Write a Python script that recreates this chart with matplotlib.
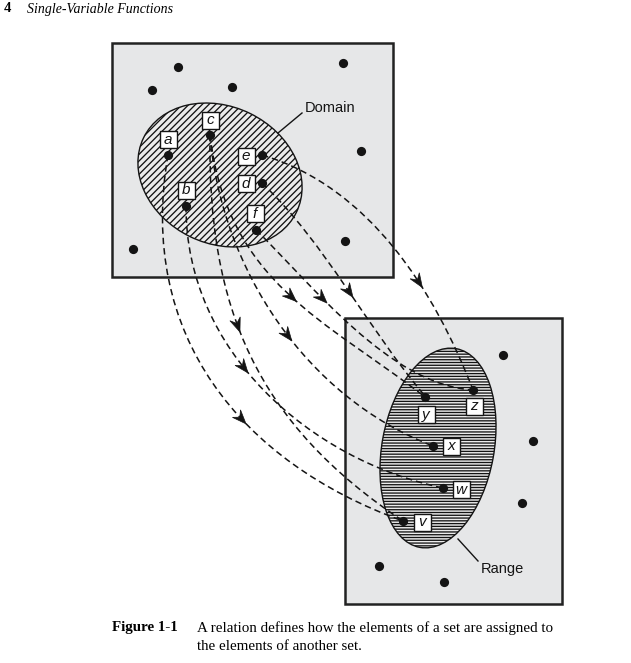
import numpy as np
import matplotlib
matplotlib.use("Agg")
import matplotlib.pyplot as plt
from matplotlib.patches import Ellipse, Rectangle, Polygon, PathPatch
from matplotlib.path import Path

# ---------------- data (pixel space) ----------------
FIG_W, FIG_H = 631, 663

domain_box = [112, 43, 393, 277]          # left, top, right, bottom
range_box = [345, 318, 562, 604]

domain_ellipse = [220, 175, 170, 137, 26]  # cx, cy, width, height, angle
range_ellipse = [438, 448, 112, 202, 10.4]

domain_names = ["a", "b", "c", "d", "e", "f"]
domain_dots = [(168, 155), (186, 206), (210, 135), (262, 183), (262, 155), (256, 230)]
domain_labels = [(168, 139), (186, 190), (210, 120), (246, 183), (246, 156), (255, 213)]

range_names = ["v", "w", "x", "y", "z"]
range_dots = [(403, 521), (443, 488), (433, 446), (425, 397), (473, 390)]
range_labels = [(422, 522), (461, 489), (451, 446), (426, 414), (474, 406)]

other_dots_x = [178, 152, 232, 343, 361, 133, 345, 503, 533, 522, 379, 444]
other_dots_y = [67, 90, 87, 63, 151, 249, 241, 355, 441, 503, 566, 582]

# relation pairs (source -> target) with waypoints
relation_src = ["a", "b", "c", "c", "c", "f", "d", "e"]
relation_dst = ["v", "w", "v", "x", "y", "z", "y", "z"]
relation_paths = [
    [(168, 155), (164, 215), (168, 270), (182, 327), (205, 373), (240, 420), (262, 440), (297, 463), (345, 497), (387, 513), (403, 521)],
    [(186, 206), (195, 270), (208, 310), (232, 350), (243, 368), (265, 393), (292, 416), (345, 450), (378, 468), (410, 480), (443, 488)],
    [(210, 135), (214, 200), (222, 270), (232, 303), (238, 325), (248, 363), (270, 397), (310, 437), (345, 475), (380, 503), (403, 521)],
    [(210, 135), (222, 205), (248, 270), (265, 303), (288, 335), (302, 353), (327, 380), (345, 395), (387, 423), (413, 438), (433, 446)],
    [(210, 135), (230, 205), (265, 270), (290, 298), (305, 310), (330, 330), (360, 350), (390, 365), (425, 397)],
    [(256, 230), (273, 257), (302, 277), (323, 297), (350, 320), (373, 343), (403, 368), (430, 382), (473, 390)],
    [(262, 183), (300, 217), (320, 250), (335, 277), (347, 293), (370, 323), (397, 353), (410, 377), (425, 396)],
    [(262, 155), (293, 167), (333, 190), (367, 217), (393, 247), (418, 282), (437, 313), (453, 343), (463, 363), (473, 390)],
]
arrow_at = [(240, 420), (243, 368), (238, 325), (288, 335), (290, 298), (323, 297), (347, 293), (418, 282)]

header_num = "4"
header_title = "Single-Variable Functions"
caption_tag = "Figure 1-1"
caption_lines = ["A relation defines how the elements of a set are assigned to",
                 "the elements of another set."]

# ---------------- style ----------------
INK = "#141414"
BOX_FILL = "#e6e7e8"
plt.rcParams["hatch.linewidth"] = 0.95
plt.rcParams["hatch.color"] = INK

fig = plt.figure(figsize=(FIG_W / 100, FIG_H / 100), dpi=100)
ax = fig.add_axes([0, 0, 1, 1])
ax.set_xlim(0, FIG_W)
ax.set_ylim(FIG_H, 0)
ax.axis("off")


def draw_box(b):
    l, t, r, bt = b
    ax.add_patch(Rectangle((l, t), r - l, bt - t, facecolor=BOX_FILL,
                           edgecolor="#222222", lw=1.8, zorder=1))


draw_box(domain_box)
draw_box(range_box)

cx, cy, w, h, ang = domain_ellipse
ax.add_patch(Ellipse((cx, cy), w, h, angle=ang, facecolor="#ececec",
                     edgecolor=INK, lw=1.0, hatch="/////", zorder=2))
cx, cy, w, h, ang = range_ellipse
ax.add_patch(Ellipse((cx, cy), w, h, angle=ang, facecolor="#ececec",
                     edgecolor=INK, lw=1.0, hatch="------", zorder=2))


def bez(P, t):
    t = np.asarray(t)[:, None]
    return ((1 - t) ** 3 * P[0] + 3 * (1 - t) ** 2 * t * P[1]
            + 3 * (1 - t) * t ** 2 * P[2] + t ** 3 * P[3])


def bez_d(P, t):
    return (3 * (1 - t) ** 2 * (P[1] - P[0]) + 6 * (1 - t) * t * (P[2] - P[1])
            + 3 * t ** 2 * (P[3] - P[2]))


def fit_cubic(pts):
    pts = np.asarray(pts, float)
    d = np.r_[0, np.cumsum(np.hypot(*np.diff(pts, axis=0).T))]
    t = d / d[-1]
    P0, P3 = pts[0], pts[-1]
    ts = np.linspace(0, 1, 801)
    P = None
    for _ in range(8):
        b0 = (1 - t) ** 3
        b1 = 3 * (1 - t) ** 2 * t
        b2 = 3 * (1 - t) * t ** 2
        b3 = t ** 3
        A = np.c_[b1, b2]
        rhs = pts - np.outer(b0, P0) - np.outer(b3, P3)
        sol = np.linalg.lstsq(A, rhs, rcond=None)[0]
        P = np.array([P0, sol[0], sol[1], P3])
        curve = bez(P, ts)
        for i in range(1, len(pts) - 1):
            t[i] = ts[np.argmin(np.hypot(*(curve - pts[i]).T))]
    return P


AL, AW = 14.0, 11.0
for pts, ap in zip(relation_paths, arrow_at):
    P = fit_cubic(pts)
    path = Path(P, [Path.MOVETO, Path.CURVE4, Path.CURVE4, Path.CURVE4])
    ax.add_patch(PathPatch(path, fill=False, edgecolor=INK, lw=1.1,
                           linestyle=(0, (4.2, 2.6)), zorder=3))
    ts = np.linspace(0, 1, 801)
    curve = bez(P, ts)
    ta = ts[np.argmin(np.hypot(*(curve - np.array(ap)).T))]
    pos = bez(P, [ta])[0]
    u = bez_d(P, ta)
    u = u / np.hypot(*u)
    n = np.array([-u[1], u[0]])
    tip = pos + u * AL * 0.5
    back = pos - u * AL * 0.5
    notch = pos - u * AL * 0.15
    ax.add_patch(Polygon([tip, back + n * AW / 2, notch, back - n * AW / 2],
                         closed=True, facecolor=INK, edgecolor=INK, lw=0.5, zorder=4))

# leader lines and region names
ax.plot([278, 302], [133, 113], color=INK, lw=1.0, zorder=3)
ax.text(305, 108, "Domain", fontsize=10.5, family="Liberation Sans", color=INK,
        ha="left", va="center", zorder=5)
ax.plot([458, 478], [539, 561], color=INK, lw=1.0, zorder=3)
ax.text(481, 569, "Range", fontsize=10.5, family="Liberation Sans", color=INK,
        ha="left", va="center", zorder=5)

# dots
ax.scatter(other_dots_x, other_dots_y, s=44, color=INK, zorder=6, linewidths=0)
for (x, y) in domain_dots + range_dots:
    ax.scatter([x], [y], s=44, color=INK, zorder=6, linewidths=0)

# labels in boxes
BS = 17
for name, (x, y) in list(zip(domain_names, domain_labels)) + list(zip(range_names, range_labels)):
    ax.add_patch(Rectangle((x - BS / 2, y - BS / 2), BS, BS, facecolor="white",
                           edgecolor=INK, lw=1.0, zorder=7))
    ax.text(x, y + 0.5, name, fontsize=11, style="italic", family="Liberation Sans",
            ha="center", va="center", color=INK, zorder=8)

# header and caption
ax.text(4, 9, header_num, fontsize=10.5, weight="bold", family="Liberation Serif",
        ha="left", va="center", color="black")
ax.text(27, 9, header_title, fontsize=10, style="italic", family="Liberation Serif",
        ha="left", va="center", color="black")
ax.text(112, 628, caption_tag, fontsize=10.8, weight="bold", family="Liberation Serif",
        ha="left", va="center", color="black")
for i, line in enumerate(caption_lines):
    ax.text(197, 628 + 19 * i, line, fontsize=10.8, family="Liberation Serif",
            ha="left", va="center", color="black")

fig.savefig("out.png", dpi=100)
